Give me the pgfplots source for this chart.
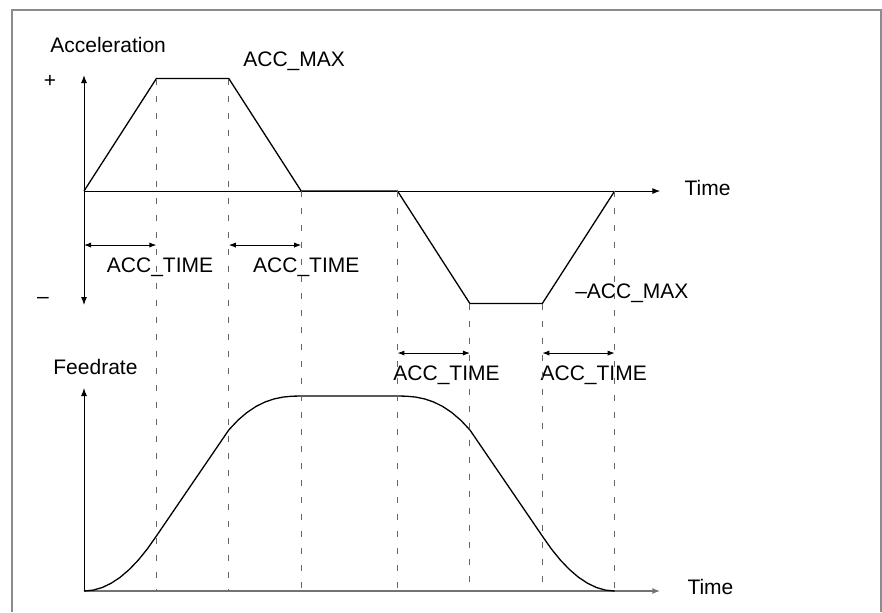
\documentclass[border=0pt]{standalone}
\usepackage{fontspec}
\setmainfont{Liberation Sans}
\usepackage{pgfplots}
\pgfplotsset{compat=1.18}
\usetikzlibrary{arrows.meta}

\pgfplotsset{
  diag/.style={
    clip=false, axis lines=middle, enlargelimits=false,
    xtick=\empty, ytick=\empty,
    x=36.2pt, xmin=0, xmax=7.96,
    axis line style={black, line width=0.5pt},
    x axis line style={-{Latex[length=4pt,width=3pt]}},
    y axis line style={-{Latex[length=4pt,width=3pt]}},
  },
}
\tikzset{
  lbl/.style={font=\fontsize{10.5}{12}\selectfont, inner sep=0pt},
  dim/.style={black, line width=0.5pt, {Latex[length=3.5pt,width=2.6pt]}-{Latex[length=3.5pt,width=2.6pt]}},
  guide/.style={black!60, line width=0.5pt, dash pattern=on 3pt off 5.5pt},
}

\begin{document}
\begin{tikzpicture}
\useasboundingbox (0,0) rectangle (441pt,306pt);
\draw[black!45, line width=1pt] (6pt,0) -- (6pt,301pt) -- (440.5pt,301pt) -- (440.5pt,0);

% acceleration profile
\begin{axis}[diag, name=acc, at={(42pt,153.5pt)}, anchor=south west,
  y=56.25pt, ymin=-1.013, ymax=1.031,
  y axis line style={{Latex[length=4pt,width=3pt]}-{Latex[length=4pt,width=3pt]}}]
\addplot[black, line width=0.65pt] coordinates {
  (0,0) (1,1) (2,1) (3,0) (4.33,0) (5.33,-1) (6.33,-1) (7.33,0)};
\coordinate (a1) at (axis cs:1,1);
\coordinate (a2) at (axis cs:2,1);
\coordinate (a3) at (axis cs:3,0);
\coordinate (a4) at (axis cs:4.33,0);
\coordinate (a5) at (axis cs:5.33,-1);
\coordinate (a6) at (axis cs:6.33,-1);
\coordinate (a7) at (axis cs:7.33,0);
\node[lbl, anchor=west] at (axis cs:-0.47,1.30) {Acceleration};
\node[lbl] at (axis cs:-0.47,0.973) {+};
\node[lbl] at (axis cs:-0.566,-0.969) {\textendash};
\node[lbl, anchor=west] at (axis cs:2.196,1.156) {ACC\_MAX};
\node[lbl, anchor=west] at (axis cs:6.78,-0.907) {\textendash ACC\_MAX};
\node[lbl, anchor=west] at (axis cs:8.29,0.03) {Time};
\draw[dim] (axis cs:0,-0.48) -- (axis cs:1,-0.48);
\draw[dim] (axis cs:2,-0.48) -- (axis cs:3,-0.48);
\draw[dim] (axis cs:4.33,-1.44) -- (axis cs:5.33,-1.44);
\draw[dim] (axis cs:6.33,-1.44) -- (axis cs:7.33,-1.44);
\node[lbl] at (axis cs:1.05,-0.676) {ACC\_TIME};
\node[lbl] at (axis cs:3.07,-0.676) {ACC\_TIME};
\node[lbl] at (axis cs:5.007,-1.636) {ACC\_TIME};
\node[lbl] at (axis cs:7.04,-1.636) {ACC\_TIME};
\end{axis}

% feedrate profile
\begin{axis}[diag, name=feed, at={(42pt,10.5pt)}, anchor=south west,
  y=0.975pt, ymin=0, ymax=104.1,
  x axis line style={black!55, line width=0.9pt}]
\addplot[black, line width=0.65pt] coordinates {
  (0,0) (0.125,0.44) (0.25,1.76) (0.375,3.97) (0.5,7.05) (0.625,11.02)
  (0.75,15.86) (0.875,21.59) (1,28.2) (2,82.6)
  (2.125,87.54) (2.25,91.52) (2.375,94.63) (2.5,96.92) (2.625,98.50)
  (2.75,99.46) (2.875,99.90) (3,100) (4.33,100)
  (4.455,99.90) (4.58,99.46) (4.705,98.50) (4.83,96.92) (4.955,94.63)
  (5.08,91.52) (5.205,87.54) (5.33,82.6) (6.33,28.2)
  (6.455,21.59) (6.58,15.86) (6.705,11.02) (6.83,7.05) (6.955,3.97)
  (7.08,1.76) (7.205,0.44) (7.33,0)};
\coordinate (b1) at (axis cs:1,0);
\coordinate (b2) at (axis cs:2,0);
\coordinate (b3) at (axis cs:3,0);
\coordinate (b4) at (axis cs:4.33,0);
\coordinate (b5) at (axis cs:5.33,0);
\coordinate (b6) at (axis cs:6.33,0);
\coordinate (b7) at (axis cs:7.33,0);
\node[lbl, anchor=west] at (axis cs:-0.428,114.9) {Feedrate};
\node[lbl, anchor=west] at (axis cs:8.33,2.05) {Time};
\end{axis}

\foreach \i in {1,...,7} {\draw[guide] (a\i) -- (b\i);}
\end{tikzpicture}
\end{document}
